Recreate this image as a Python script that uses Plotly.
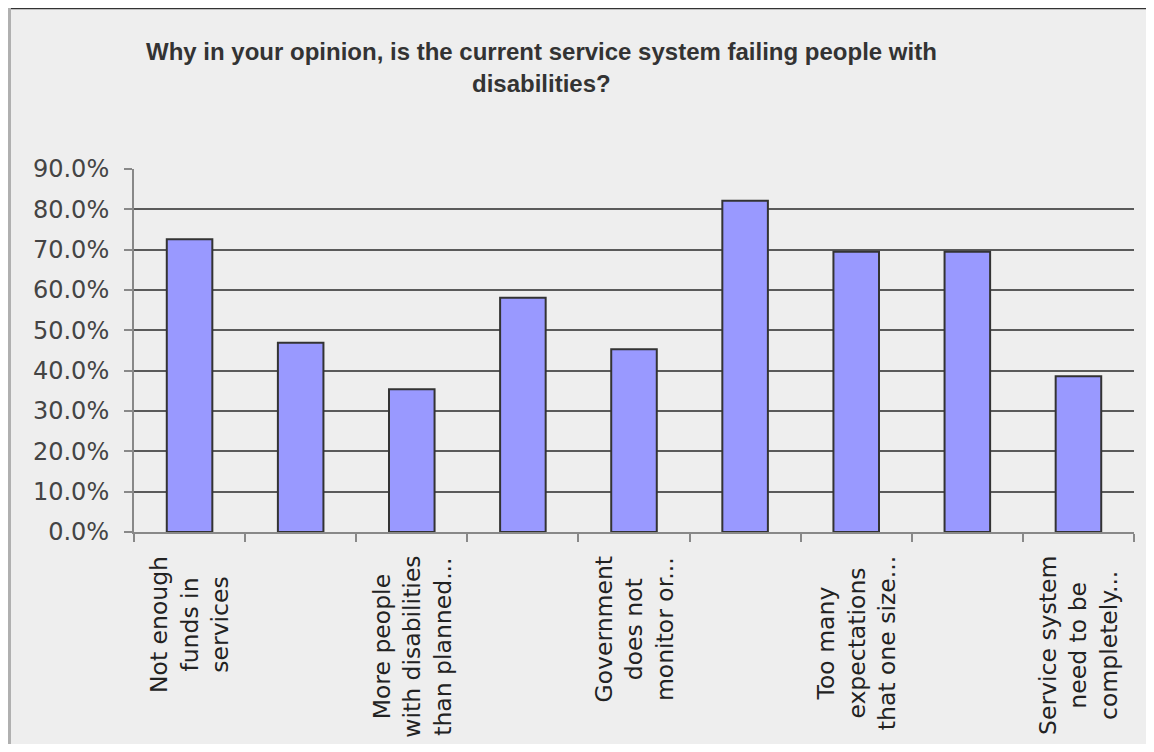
import plotly.graph_objects as go

categories = [
    "Not enough<br>funds in<br>services",
    "",
    "More people<br>with disabilities<br>than planned...",
    "",
    "Government<br>does not<br>monitor or...",
    "",
    "Too many<br>expectations<br>that one size...",
    "",
    "Service system<br>need to be<br>completely...",
]
values = [0.726, 0.469, 0.354, 0.581, 0.453, 0.821, 0.695, 0.695, 0.386]
title_lines = [
    "Why in your opinion, is the current service system failing people with",
    "disabilities?",
]
y_ticks = [0.0, 0.1, 0.2, 0.3, 0.4, 0.5, 0.6, 0.7, 0.8, 0.9]

# page offset of the figure (body margin)
OFF = 8
W, H = 1146, 736
# plot area in page pixels
PL, PR, PT, PB = 134, 1134, 169, 532
L, T = PL - OFF, PT - OFF
R = W - (PR - OFF)
B = H - (PB - OFF)
PW, PH = PR - PL, PB - PT

def px_x(px):
    return (px - PL) / PW

def px_y(py):
    return (PB - py) / PH

x_idx = list(range(len(categories)))

fig = go.Figure()
fig.add_trace(go.Bar(
    x=x_idx, y=values,
    marker=dict(color="#9999ff", line=dict(color="#333333", width=2)),
    width=0.41,
    hoverinfo="skip",
))

annotations = []
for i, lab in enumerate(categories):
    if lab:
        annotations.append(dict(
            x=i, xref="x", y=px_y(554), yref="paper",
            text=lab, showarrow=False, textangle=-90,
            xanchor="center", yanchor="top", align="center",
            font=dict(family="DejaVu Sans", size=23.5, color="#222222"),
        ))

title_y = [52, 84]
for line, ty in zip(title_lines, title_y):
    annotations.append(dict(
        x=px_x(541), xref="paper", y=px_y(ty), yref="paper",
        text="<b>" + line + "</b>", showarrow=False,
        xanchor="center", yanchor="middle",
        font=dict(family="Liberation Sans", size=24, color="#333333"),
    ))

shapes = [
    # top border
    dict(type="line", xref="paper", yref="paper", x0=px_x(7), x1=px_x(1160),
         y0=px_y(8.5), y1=px_y(8.5), line=dict(color="#333333", width=1.5)),
    # left border
    dict(type="line", xref="paper", yref="paper", x0=px_x(9.5), x1=px_x(9.5),
         y0=px_y(8), y1=px_y(760), line=dict(color="#b0b0b0", width=3)),
]

fig.update_layout(
    width=W, height=H,
    margin=dict(l=L, r=R, t=T, b=B, pad=0),
    paper_bgcolor="#eeeeee", plot_bgcolor="#eeeeee",
    showlegend=False,
    bargap=0.59,
    annotations=annotations,
    shapes=shapes,
    xaxis=dict(
        range=[-0.5, len(categories) - 0.5],
        tickmode="array", tickvals=[i - 0.5 for i in range(len(categories) + 1)],
        ticktext=[""] * (len(categories) + 1),
        showticklabels=False,
        ticks="outside", ticklen=8, tickcolor="#888888", tickwidth=2,
        showline=True, linecolor="#888888", linewidth=2,
        showgrid=False, zeroline=False, fixedrange=True,
    ),
    yaxis=dict(
        range=[0, 0.9],
        tickmode="array", tickvals=y_ticks,
        tickformat=".1%",
        ticks="outside", ticklen=8, tickcolor="#888888", tickwidth=2,
        showline=True, linecolor="#888888", linewidth=2,
        showgrid=True, gridcolor="#5a5a5a", gridwidth=1.5,
        zeroline=False,
        tickfont=dict(family="DejaVu Sans", size=24, color="#444444"),
        ticklabelstandoff=10,
        fixedrange=True,
    ),
)

fig.write_html("out.html", config={"displayModeBar": False})
